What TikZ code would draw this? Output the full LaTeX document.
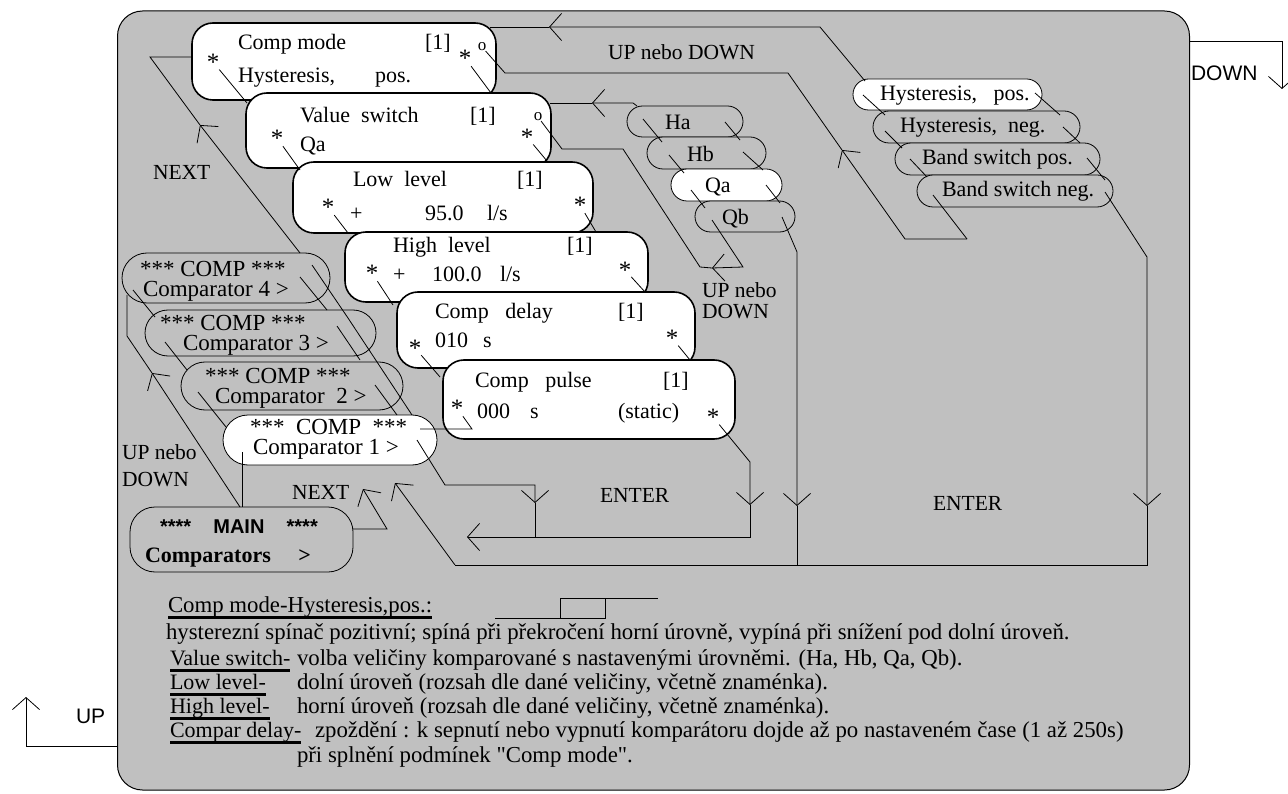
\documentclass[tikz,border=0pt]{standalone}
\usepackage{fontspec}
\setmainfont{Liberation Serif}
\newfontfamily\arialf{Liberation Sans}
\newfontfamily\qfont{Liberation Serif}[Ligatures=TeXOff]
\usetikzlibrary{arrows.meta,calc}
\definecolor{panelgray}{HTML}{C0C0C0}
\begin{document}
\begin{tikzpicture}[x=1pt,y=-1pt,
 every node/.style={inner sep=0pt, outer sep=0pt},
 txt/.style={font=\fontsize{22}{26}\selectfont, anchor=base west},
 ctxt/.style={font=\fontsize{23}{20}\selectfont, anchor=north west, align=left},
 ast/.style={font=\fontsize{25}{28}\selectfont},
 oo/.style={font=\fontsize{17}{20}\selectfont},
 lbl/.style={font=\fontsize{21.5}{25}\selectfont, anchor=base west},
 btxt/.style={font=\fontsize{22.8}{25}\selectfont, anchor=base west},
 blbl/.style={font=\fontsize{22}{25}\selectfont, anchor=base west},
 menubox/.style={draw, line width=1.6pt, fill=white, rounded corners=21pt},
 pill/.style={draw, line width=0.8pt, fill=panelgray},
 wpill/.style={pill, fill=white},
 ln/.style={line width=0.8pt},
 arr/.style={ln, -{Straight Barb[length=12pt,width=27pt,line width=0.8pt]}},
 uline/.style={line width=3pt},
]
\useasboundingbox (0,0) rectangle (1288,794);
% panel
\node[draw, line width=1pt, fill=panelgray, rounded corners=25pt, minimum width=1072pt, minimum height=779pt] (panel) at (653.5,400.5) {};

% ---------- menu boxes ----------
\node[menubox, minimum width=304pt, minimum height=77pt] (cm) at (344,61.5) {};
\node[menubox, minimum width=305pt, minimum height=75pt] (vs) at (398.5,130.5) {};
\node[menubox, minimum width=300pt, minimum height=71pt] (ll) at (443,197.5) {};
\node[menubox, minimum width=303pt, minimum height=70pt] (hl) at (496.5,267) {};
\node[menubox, minimum width=298pt, minimum height=76pt] (cd) at (546,330) {};
\node[menubox, minimum width=292pt, minimum height=79pt] (cpu) at (589,399.5) {};

% box texts
\node[txt] (cm1) at (238,50) {Comp mode};
\node[txt] (cm2) at (425,50) {[1]};
\node[txt] (cm3) at (238,83) {Hysteresis,};
\node[txt] (cm4) at (375,83) {pos.};
\node[ast] (cma) at (213,62) {*};
\node[ast] (cmb) at (465,58) {*};
\node[oo] (cmo) at (482,47) {o};

\node[txt] (vs1) at (300,123) {Value\ \ switch};
\node[txt] (vs2) at (470,123) {[1]};
\node[txt] (vs3) at (300,152) {Qa};
\node[ast] (vsa) at (277,138) {*};
\node[ast] (vsb) at (527,137) {*};
\node[oo] (vso) at (538,117) {o};

\node[txt] (ll1) at (353,187) {Low\ \ level};
\node[txt] (ll2) at (517,187) {[1]};
\node[txt] (ll3) at (350,221) {+};
\node[txt] (ll4) at (425,221) {95.0};
\node[txt] (ll5) at (487,221) {l/s};
\node[ast] (lla) at (328,207) {*};
\node[ast] (llb) at (580,205) {*};

\node[txt] (hl1) at (393,253) {High\ \ level};
\node[txt] (hl2) at (567,253) {[1]};
\node[txt] (hl3) at (393,282) {+};
\node[txt] (hl4) at (432,282) {100.0};
\node[txt] (hl5) at (500,282) {l/s};
\node[ast] (hla) at (372,273) {*};
\node[ast] (hlb) at (625,270) {*};

\node[txt] (cd1) at (435,319) {Comp\ \ \ delay};
\node[txt] (cd2) at (618,319) {[1]};
\node[txt] (cd3) at (435,348) {010};
\node[txt] (cd4) at (483,348) {s};
\node[ast] (cda) at (415,348) {*};
\node[ast] (cdb) at (672,338) {*};

\node[txt] (cp1) at (475,388) {Comp\ \ \ pulse};
\node[txt] (cp2) at (663,388) {[1]};
\node[txt] (cp3) at (477,418) {000};
\node[txt] (cp4) at (530,418) {s};
\node[txt] (cp5) at (618,418) {(static)};
\node[ast] (cpa) at (457,408) {*};
\node[ast] (cpb) at (713,417) {*};

% ---------- value pills ----------
\node[pill, minimum width=116pt, minimum height=31pt, rounded corners=15.5pt] (ha) at (685,121.5) {};
\node[pill, minimum width=119pt, minimum height=32pt, rounded corners=16pt] (hb) at (706.5,153) {};
\node[wpill, minimum width=111pt, minimum height=32pt, rounded corners=16pt] (qa) at (726.5,185) {};
\node[pill, minimum width=100pt, minimum height=31pt, rounded corners=15.5pt] (qb) at (745,216.5) {};
\node[txt] (hat) at (665,130) {Ha};
\node[txt] (hbt) at (687,162) {Hb};
\node[txt] (qat) at (705,193) {Qa};
\node[txt] (qbt) at (722,225) {Qb};

% ---------- mode pills ----------
\node[wpill, minimum width=189pt, minimum height=31pt, rounded corners=15.5pt] (hp) at (947.5,94.5) {};
\node[pill, minimum width=207pt, minimum height=32pt, rounded corners=16pt] (hn) at (976.5,127) {};
\node[pill, minimum width=205pt, minimum height=32pt, rounded corners=16pt] (bp) at (997.5,159) {};
\node[pill, minimum width=196pt, minimum height=32pt, rounded corners=16pt] (bn) at (1015,191) {};
\node[txt] (hpt) at (880,101) {Hysteresis,\ \ \ pos.};
\node[txt] (hnt) at (900,133) {Hysteresis,\ \ neg.};
\node[txt] (bpt) at (922,165) {Band switch pos.};
\node[txt] (bnt) at (942,197) {Band switch neg.};

% ---------- comparator pills ----------
\node[pill, minimum width=208pt, minimum height=50pt, rounded corners=25pt] (c4) at (226,278) {};
\node[pill, minimum width=231pt, minimum height=46pt, rounded corners=23pt] (c3) at (260.5,333) {};
\node[pill, minimum width=222pt, minimum height=48pt, rounded corners=24pt] (c2) at (292,386) {};
\node[wpill, minimum width=214pt, minimum height=50pt, rounded corners=25pt] (c1) at (330,440) {};
\node[ctxt] (c4t) at (140,261.2) {*** COMP ***\\\hspace*{3pt}Comparator 4 >};
\node[ctxt] (c3t) at (160,315.2) {*** COMP ***\\\hspace*{23pt}Comparator 3 >};
\node[ctxt] (c2t) at (205,368.2) {*** COMP ***\\\hspace*{10pt}Comparator\ \ 2 >};
\node[ctxt] (c1t) at (250,419.2) {***\ \ COMP\ \ ***\\\hspace*{3pt}Comparator 1 >};

% ---------- MAIN ----------
\node[pill, minimum width=223pt, minimum height=65pt, rounded corners=25pt] (main) at (241.5,539.5) {};
\node[anchor=base west, font=\arialf\bfseries\fontsize{20}{24}\selectfont] (m1) at (160,533) {****\ \ \ \ MAIN\ \ \ \ ****};
\node[anchor=base west, font=\bfseries\fontsize{22}{26}\selectfont] (m2) at (145,562) {Comparators\ \ \ \ \ >};

% ---------- labels ----------
\node[lbl] (next1) at (153,180) {NEXT};
\node[lbl] (updn1) at (608,60) {UP nebo DOWN};
\node[lbl, align=left, anchor=north west, font=\fontsize{21.5}{21}\selectfont] (updn2) at (702,283) {UP nebo\\DOWN};
\node[lbl, align=left, anchor=north west, font=\fontsize{21.5}{27}\selectfont] (updn3) at (122,445) {UP nebo\\DOWN};
\node[lbl] (next2) at (292,499) {NEXT};
\node[lbl] (ent1) at (600,502) {ENTER};
\node[lbl] (ent2) at (933,510) {ENTER};

% ---------- connectors: box chain ----------
\draw[ln] (cma) -- (247,103);
\draw[ln] (vsa) -- (300,170);
\draw[ln] (lla) -- (348,233);
\draw[ln] (hla) -- (393,305);
\draw[ln] (cda) -- (440,377);
\draw[ln] (cpa) -- (472,429) -- (420,429);
\draw[ln] (cmb) -- (491,93);
\draw[ln] (vsb) -- (547,161);
\draw[ln] (llb) -- (596,232);
\draw[ln] (hlb) -- (645,292);
\draw[ln] (cdb) -- (690,360);
\coordinate (e1) at (750,505);
\coordinate (e2) at (750,537);
\draw[arr] (cpb) -- (750,462) -- (e1);
\draw[arr] (e1) -- (e2) -- (467,537);

% ---------- top loops ----------
\coordinate (ua) at (549,27);
\draw[arr] (hp.north west) ++(12,2) -- (820,27) -- (ua);
\draw[ln] (ua) -- (490,27);
\coordinate (ub) at (592,103);
\draw[arr] (ha.north west) ++(10,0) -- (633,103) -- (ub);
\draw[ln] (ub) -- (550,103);

\coordinate (uc) at (842,150);
\draw[ln] (cmo) -- (505,73) -- (788,73) -- (uc);
\draw[arr] (967,239) -- (905,239) -- (uc);
\draw[ln] (967,239) -- (933,195);

\coordinate (ud) at (712,268);
\draw[ln] (vso) -- (562,149) -- (623,149) -- (700,267) -- (ud);
\draw[arr] (712,220) -- (743,267) -- (ud);

% pill marks
\draw[ln] (643,119) -- (662,142);
\draw[ln] (725,122) -- (740,140);
\draw[ln] (669,155) -- (684,173);
\draw[ln] (743,152) -- (763,170);
\draw[ln] (691,190) -- (705,208);
\draw[ln] (766,185) -- (780,203);
\draw[ln] (863,95) -- (885,115);
\draw[ln] (1035,93) -- (1060,115);
\draw[ln] (885,131) -- (902,148);
\draw[ln] (1063,127) -- (1080,143);
\draw[ln] (910,159) -- (927,177);
\draw[ln] (1087,158) -- (1105,180);

% right ENTER loops
\coordinate (va) at (797,506);
\coordinate (vb) at (1147,506);
\draw[arr] (782,217) -- (797,252) -- (va);
\draw[arr] (1105,192) -- (1147,257) -- (vb);
\draw[ln] (va) -- (797,565);
\draw[ln] (vb) -- (1147,565) -- (455,565);
\draw[arr] (455,565) -- (395,483);

% comparator chain
\draw[ln] (133,290) -- (155,317);
\draw[ln] (165,342) -- (187,370);
\draw[ln] (198,392) -- (226,427);
\draw[ln] (242,452) -- (main.north -| 242,0);
\draw[ln] (300,277) -- (327,310);
\draw[ln] (337,326) -- (360,360);
\draw[ln] (375,385) -- (397,415);
\coordinate (ee) at (535,503);
\draw[arr] (417,440) -- (445,485) -- (535,485) -- (ee);
\draw[ln] (ee) -- (535,537);
\draw[ln] (312,265) -- (348,318);
\draw[ln] (348,318) -- (412,415);

% NEXT line to comp mode
\coordinate (na) at (200,125);
\draw[arr] (300,253) -- (na);
\draw[ln] (na) -- (150,57) -- (cm.west |- 0,57);

% UP/DOWN loop from MAIN
\coordinate (nb) at (152,373);
\draw[arr] (main.north -| 240,0) -- (nb);
\draw[ln] (nb) -- (127,336) -- (127,295);

% NEXT from MAIN
\draw[arr] (main.east |- 0,529) -- (387,529) -- (363,489);

% ---------- outside DOWN / UP ----------
\node[anchor=west, font=\arialf\fontsize{21}{24}\selectfont] (dn) at (1191,73) {DOWN};
\draw[arr] (panel.east |- 0,41) -- (1282,41) -- (1282,89);
\node[anchor=west, font=\arialf\fontsize{21}{24}\selectfont] (upl) at (76,716) {UP};
\draw[arr] (panel.west |- 0,746) -- (26,746) -- (26,697);

% ---------- bottom text ----------
\node[btxt] (b1) at (168,612) {Comp mode-Hysteresis,pos.:};
\draw[uline] ($(b1.base west)+(0,5)$) -- ($(b1.base east)+(0,5)$);
\draw[ln] (495,618) -- (605,618) -- (605,598);
\draw[ln] (560,618) -- (560,598) -- (658,598);
\node[btxt] (b2) at (166,639) {hysterezní spínač pozitivní; spíná při překročení horní úrovně, vypíná při snížení pod dolní úroveň.};
\node[blbl] (b3) at (170,665) {Value switch-};
\draw[uline] ($(b3.base west)+(0,5)$) -- ($(b3.base east)+(0,5)$);
\node[btxt] (b3d) at (297,665) {volba veličiny komparované s nastavenými úrovněmi. (Ha, Hb, Qa, Qb).};
\node[blbl] (b4) at (170,689) {Low level-};
\draw[uline] ($(b4.base west)+(0,5)$) -- ($(b4.base east)+(0,5)$);
\node[btxt] (b4d) at (297,689) {dolní úroveň (rozsah dle dané veličiny, včetně znaménka).};
\node[blbl] (b5) at (170,713) {High level-};
\draw[uline] ($(b5.base west)+(0,5)$) -- ($(b5.base east)+(0,5)$);
\node[btxt] (b5d) at (297,713) {horní úroveň (rozsah dle dané veličiny, včetně znaménka).};
\node[blbl] (b6) at (170,737) {Compar delay-};
\draw[uline] ($(b6.base west)+(0,5)$) -- ($(b6.base east)+(0,5)$);
\node[btxt] (b6d) at (315,737) {zpoždění : k sepnutí nebo vypnutí komparátoru dojde až po nastaveném čase (1 až 250s)};
\node[btxt] (b7) at (297,762) {při splnění podmínek {\qfont"}Comp mode{\qfont"}.};
\end{tikzpicture}
\end{document}
